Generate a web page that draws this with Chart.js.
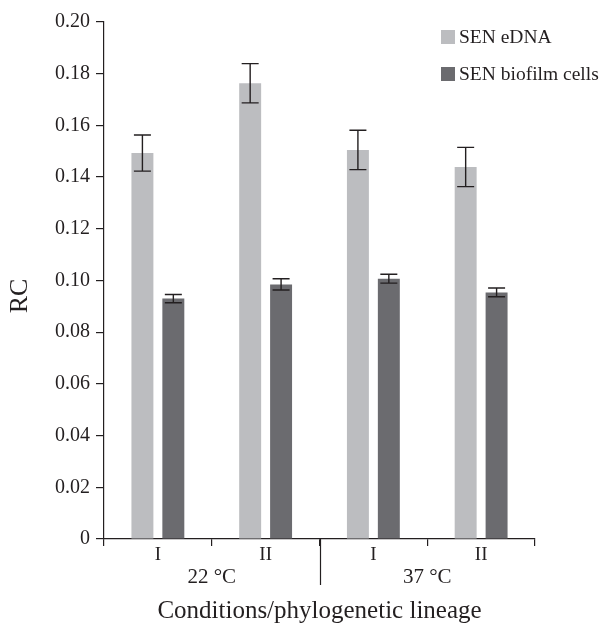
<!DOCTYPE html>
<html>
<head>
<meta charset="utf-8">
<script src="https://cdn.jsdelivr.net/npm/chart.js@4/dist/chart.umd.min.js"></script>
<style>
  html, body { margin: 0; padding: 0; background: #fff; }
  #wrap { width: 603px; height: 626px; position: relative; }
</style>
</head>
<body>
<div id="wrap"><canvas id="rcChart" width="603" height="626"></canvas></div>
<script>
// lineage labels per bar group, and the temperature groups they belong to
const lineages = ["I", "II", "I", "II"];
const conditions = ["22 °C", "37 °C"];

// relative contribution (RC)
const ednaValues = [0.1493, 0.1763, 0.1505, 0.1439];
const ednaErrors = [0.0070, 0.0076, 0.0076, 0.0076];
const cellValues = [0.0930, 0.0985, 0.1007, 0.0954];
const cellErrors = [0.0016, 0.0022, 0.0017, 0.0017];

const ink = "#231f20";
const serif = "'Liberation Serif', 'DejaVu Serif', serif";

// draws the +/- error whiskers on top of each bar
const errorBars = {
    id: "errorBars",
    afterDatasetsDraw(chart) {
        const ctx = chart.ctx;
        const y = chart.scales.y;
        ctx.save();
        ctx.strokeStyle = ink;
        ctx.lineWidth = 1.4;
        chart.data.datasets.forEach(function (ds, i) {
            const meta = chart.getDatasetMeta(i);
            meta.data.forEach(function (bar, j) {
                const v = ds.data[j], e = ds.errors[j];
                const top = y.getPixelForValue(v + e);
                const bot = y.getPixelForValue(v - e);
                const cap = 8.5;
                ctx.beginPath();
                ctx.moveTo(bar.x, top); ctx.lineTo(bar.x, bot);
                ctx.moveTo(bar.x - cap, top); ctx.lineTo(bar.x + cap, top);
                ctx.moveTo(bar.x - cap, bot); ctx.lineTo(bar.x + cap, bot);
                ctx.stroke();
            });
        });
        ctx.restore();
    }
};

// temperature group labels under the lineage labels, long divider, y title
const groupLabels = {
    id: "groupLabels",
    afterDraw(chart) {
        const ctx = chart.ctx;
        const x = chart.scales.x;
        const base = chart.chartArea.bottom;
        ctx.save();
        ctx.fillStyle = ink;
        ctx.strokeStyle = ink;
        ctx.font = "21px " + serif;
        ctx.textAlign = "center";
        ctx.textBaseline = "middle";
        conditions.forEach(function (c, g) {
            const cx = (x.getPixelForValue(g * 2) + x.getPixelForValue(g * 2 + 1)) / 2;
            ctx.fillText(c, cx, base + 38);
        });
        for (let g = 1; g < conditions.length; g++) {
            const dx = Math.round((x.getPixelForValue(g * 2 - 1) + x.getPixelForValue(g * 2)) / 2) + 0.5;
            ctx.lineWidth = 1.2;
            ctx.beginPath();
            ctx.moveTo(dx, base); ctx.lineTo(dx, base + 46);
            ctx.stroke();
        }
        // RC title, sits a bit below the plot middle in the original
        ctx.translate(20, 296);
        ctx.rotate(-Math.PI / 2);
        ctx.font = "26px " + serif;
        ctx.fillText("RC", 0, 0);
        ctx.restore();
    }
};

// legend sitting in the top-right corner
const cornerLegend = {
    id: "cornerLegend",
    afterDraw(chart) {
        const ctx = chart.ctx;
        ctx.save();
        ctx.font = "19.5px " + serif;
        ctx.textBaseline = "middle";
        chart.data.datasets.forEach(function (ds, i) {
            const yy = 37 + i * 37;
            ctx.fillStyle = ds.backgroundColor;
            ctx.fillRect(441, yy - 7, 14, 14);
            ctx.fillStyle = ink;
            ctx.fillText(ds.label, 459, yy + 1);
        });
        ctx.restore();
    }
};

new Chart("rcChart", {
    type: "bar",
    data: {
        labels: lineages,
        datasets: [
            { label: "SEN eDNA", data: ednaValues, errors: ednaErrors, backgroundColor: "#bcbdc0" },
            { label: "SEN biofilm cells", data: cellValues, errors: cellErrors, backgroundColor: "#6b6b6f" }
        ]
    },
    options: {
        responsive: false,
        animation: false,
        categoryPercentage: 0.574,
        barPercentage: 0.71,
        layout: { padding: { top: 22, right: 68, left: 0, bottom: 0 } },
        plugins: {
            legend: { display: false },
            tooltip: { enabled: false }
        },
        scales: {
            x: {
                grid: { offset: true, drawOnChartArea: false, drawTicks: true, tickLength: 7, color: ink, lineWidth: 1.2 },
                border: { display: true, color: ink, width: 1.2 },
                ticks: { color: ink, font: { family: serif, size: 19 }, padding: -2 },
                title: { display: true, text: "Conditions/phylogenetic lineage", color: ink, font: { family: serif, size: 25 }, padding: { top: 28, bottom: 0 } },
                afterFit: function (s) { s.height = 87; }
            },
            y: {
                min: 0,
                max: 0.2,
                grid: { drawOnChartArea: false, drawTicks: true, tickLength: 8, color: ink, lineWidth: 1.2 },
                border: { display: true, color: ink, width: 1.2 },
                ticks: {
                    stepSize: 0.02,
                    color: ink,
                    padding: 6,
                    font: { family: serif, size: 20 },
                    callback: function (v) { return v === 0 ? "0" : v.toFixed(2); }
                },
                afterFit: function (s) { s.width = 104; }
            }
        }
    },
    plugins: [errorBars, groupLabels, cornerLegend]
});
</script>
</body>
</html>
